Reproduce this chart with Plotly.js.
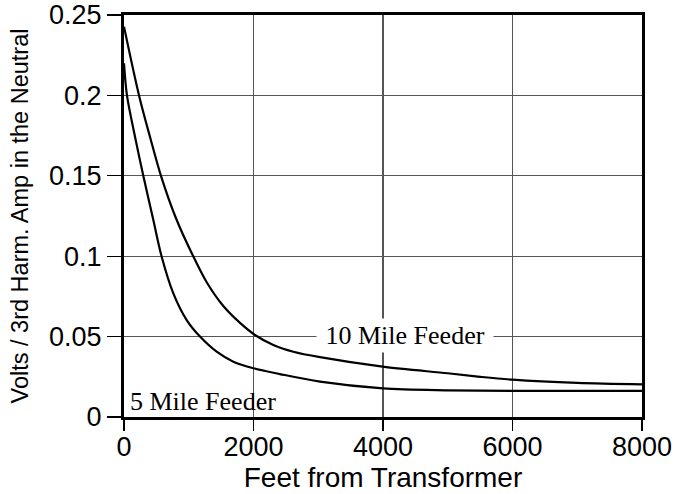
<!DOCTYPE html>
<html>
<head>
<meta charset="utf-8">
<script src="https://cdn.plot.ly/plotly-3.0.1.min.js"></script>
<style>html,body{margin:0;padding:0;background:#fff;}#chart{width:678px;height:494px;}</style>
</head>
<body>
<div id="chart"></div>
<script>
// Feet from transformer / volts per 3rd-harmonic amp in the neutral
const feet10 = [0, 232, 401, 571, 814, 1071, 1277, 1534, 1792, 2023, 2306, 2615, 3027, 3995, 5000, 5500, 6000, 7000, 8000];
const volts10 = [0.2427, 0.200, 0.1743, 0.150, 0.1225, 0.0998, 0.0838, 0.069, 0.0585, 0.051, 0.0448, 0.0406, 0.0372, 0.0313, 0.0272, 0.025, 0.0232, 0.0212, 0.0203];

const feet5 = [0, 46, 170, 298, 453, 582, 762, 968, 1174, 1431, 1689, 2000, 2409, 3027, 4000, 5000, 6000, 8000];
const volts5 = [0.220, 0.200, 0.1743, 0.150, 0.1225, 0.0997, 0.0769, 0.0603, 0.050, 0.0406, 0.0344, 0.0303, 0.0267, 0.022, 0.0178, 0.0166, 0.0162, 0.0162];

const xTicks = [0, 2000, 4000, 6000, 8000];
const yTicks = [0, 0.05, 0.1, 0.15, 0.2, 0.25];
const yTickText = ['0', '0.05', '0.1', '0.15', '0.2', '0.25'];

const label10 = '\u00a010 Mile Feeder\u00a0';
const label5 = '5 Mile Feeder';

const sans = 'Liberation Sans, Arial, sans-serif';
const serif = 'Liberation Serif, Times New Roman, serif';

const traces = [
  {x: feet10, y: volts10, mode: 'lines', line: {color: '#000', width: 2.2, shape: 'spline', smoothing: 0.9}, hoverinfo: 'skip'},
  {x: feet5, y: volts5, mode: 'lines', line: {color: '#000', width: 2.2, shape: 'spline', smoothing: 0.9}, hoverinfo: 'skip'}
];

const layout = {
  width: 678, height: 494,
  margin: {l: 124, r: 36, t: 15, b: 77},
  paper_bgcolor: '#fff', plot_bgcolor: '#fff',
  showlegend: false,
  font: {family: sans, color: '#000', size: 26},
  xaxis: {
    range: [0, 8000], tickvals: xTicks, ticktext: xTicks.map(String),
    showgrid: true, gridcolor: '#555', gridwidth: 1.2,
    zeroline: false, showline: true, linecolor: '#000', linewidth: 3, mirror: true,
    ticks: 'outside', ticklen: 11, tickwidth: 1.2, tickcolor: '#000',
    tickfont: {family: sans, size: 27, color: '#000'}, ticklabelstandoff: -7,
    title: {text: 'Feet from Transformer', font: {family: sans, size: 28, color: '#000'}, standoff: 0},
    automargin: false, fixedrange: true
  },
  yaxis: {
    range: [0, 0.25], tickvals: yTicks, ticktext: yTickText,
    showgrid: true, gridcolor: '#555', gridwidth: 1.2,
    zeroline: false, showline: true, linecolor: '#000', linewidth: 3, mirror: true,
    ticks: 'outside', ticklen: 14, tickwidth: 1.2, tickcolor: '#000',
    tickfont: {family: sans, size: 27, color: '#000'},
    title: {text: 'Volts / 3rd Harm. Amp in the Neutral', font: {family: sans, size: 23.5, color: '#000'}, standoff: 14},
    automargin: false, fixedrange: true
  },
  annotations: [
    {x: 4340, y: 0.0505, xref: 'x', yref: 'y', text: label10, showarrow: false,
     xanchor: 'center', yanchor: 'middle', bgcolor: '#fff', borderpad: 2,
     font: {family: serif, size: 26, color: '#000'}},
    {x: 60, y: 0.0095, xref: 'x', yref: 'y', text: label5, showarrow: false,
     xanchor: 'left', yanchor: 'middle',
     font: {family: serif, size: 26, color: '#000'}}
  ]
};

Plotly.newPlot('chart', traces, layout, {staticPlot: true, displayModeBar: false});
</script>
</body>
</html>
